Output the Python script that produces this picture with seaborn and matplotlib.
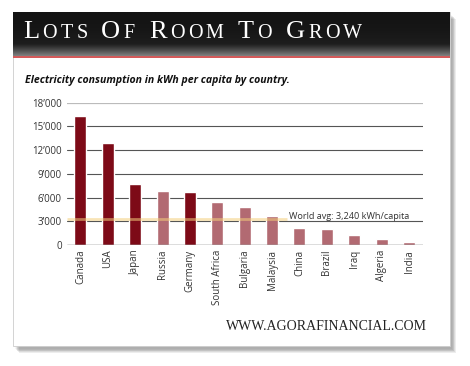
import numpy as np
import matplotlib
matplotlib.use("Agg")
import matplotlib.pyplot as plt
import seaborn as sns
from matplotlib.patches import Rectangle

countries = ["Canada", "USA", "Japan", "Russia", "Germany", "South Africa", "Bulgaria",
             "Malaysia", "China", "Brazil", "Iraq", "Algeria", "India"]
kwh = [16300, 12900, 7700, 6850, 6650, 5450, 4800, 3650, 2200, 2000, 1230, 720, 340]
developed = [True, True, True, False, True, False, False, False, False, False, False, False, False]
world_avg = 3240
yticks = [0, 3000, 6000, 9000, 12000, 15000, 18000]
ytick_labels = ["0", "3\u2019000", "6\u2019000", "9\u2019000", "12\u2019000", "15\u2019000", "18\u2019000"]

DARK = "#7d0a17"
LIGHT = "#b26a72"
W, H = 470, 366

sns.set_theme(style="white")
plt.rcParams["font.family"] = ["Open Sans", "DejaVu Sans"]

fig = plt.figure(figsize=(W / 100, H / 100), dpi=100)
fig.patch.set_facecolor("white")

# background / card decorations in pixel coordinates
bg = fig.add_axes([0, 0, 1, 1], zorder=0)
bg.axis("off")
cx0, cy0, cx1, cy1 = 13, 12, 450, 346
for i in range(10, 0, -1):
    bg.add_patch(Rectangle((cx0 + 2 + i * 0.4, cy0 + 3 + i * 0.4), cx1 - cx0, cy1 - cy0,
                           facecolor="black", alpha=0.035, edgecolor="none"))
bg.add_patch(Rectangle((cx0, cy0), cx1 - cx0, cy1 - cy0, facecolor="white",
                       edgecolor="#cccccc", lw=0.6))
grad = np.linspace(0, 1, 100) ** 2.2
grad = np.vstack([grad] * 2).T
bg.imshow(grad, extent=(cx0, cx1, 56, cy0), cmap=matplotlib.colors.LinearSegmentedColormap.from_list(
    "hdr", ["#141414", "#1e1e1e", "#808080"]), aspect="auto", zorder=1)
bg.add_patch(Rectangle((cx0, 56), cx1 - cx0, 2.2, facecolor="#d35a5a", edgecolor="none", zorder=2))
bg.set_xlim(0, W)
bg.set_ylim(H, 0)

# small caps title: letters with tracking, word gaps fill the width
fig.canvas.draw()
renderer = fig.canvas.get_renderer()
words = "LOTS OF ROOM TO GROW".split()
TRACK = 3.4
word_items = []
for wd in words:
    items = []
    for i, ch in enumerate(wd):
        t = bg.text(0, 37.5, ch, fontsize=19 if i == 0 else 14.5, color="white",
                    family="Liberation Serif", va="baseline", ha="left", zorder=3)
        items.append((t, t.get_window_extent(renderer).width))
    word_items.append(items)
word_w = [sum(w for _, w in items) + TRACK * (len(items) - 1) for items in word_items]
gap = (362 - 23 - sum(word_w)) / (len(words) - 1)
x = 23
for items in word_items:
    for t, w in items:
        t.set_x(x)
        x += w + TRACK
    x += gap - TRACK

bg.text(25, 80, "Electricity consumption in kWh per capita by country.", fontsize=7.6,
        fontweight="bold", fontstyle="italic", color="#111111", va="center", ha="left",
        family=["Open Sans", "DejaVu Sans"])
bg.text(427, 327, "WWW.AGORAFINANCIAL.COM", fontsize=10, color="#222222",
        family="Liberation Serif", va="center", ha="right")

# chart
ax = fig.add_axes([66.7 / W, 1 - 245 / H, (422.7 - 66.7) / W, (245 - 102.7) / H], zorder=2)
ax.patch.set_alpha(0)
sns.barplot(x=countries, y=kwh, hue=countries,
            palette=[DARK if d else LIGHT for d in developed],
            width=0.44, legend=False, ax=ax, zorder=3, saturation=1)
ax.set_xlim(-0.5, len(countries) - 0.5)
ax.set_ylim(0, 18000)
ax.set_yticks(yticks)
ax.set_yticklabels(ytick_labels)
for v in yticks[1:-1]:
    ax.axhline(v, color="#555555", lw=0.8, zorder=1)
ax.axhline(yticks[-1], color="#bbbbbb", lw=1.6, zorder=1)
ax.axhline(0, color="#555555", lw=1.0, zorder=4)
ax.plot([-0.5, 7.55], [world_avg, world_avg], color="#f4cf7c", alpha=0.55, lw=2.0, zorder=5,
        solid_capstyle="butt")
ax.text(7.62, world_avg + 350, "World avg: 3,240 kWh/capita", fontsize=6.6, color="#333333",
        va="center", ha="left")
for s in ax.spines.values():
    s.set_visible(False)
ax.tick_params(axis="x", labelrotation=90, length=0, pad=3.5, labelsize=7, labelcolor="#333333")
ax.tick_params(axis="y", length=0, pad=3.5, labelsize=7, labelcolor="#333333")
ax.set_xlabel("")
ax.set_ylabel("")

fig.savefig("out.png", dpi=100)
